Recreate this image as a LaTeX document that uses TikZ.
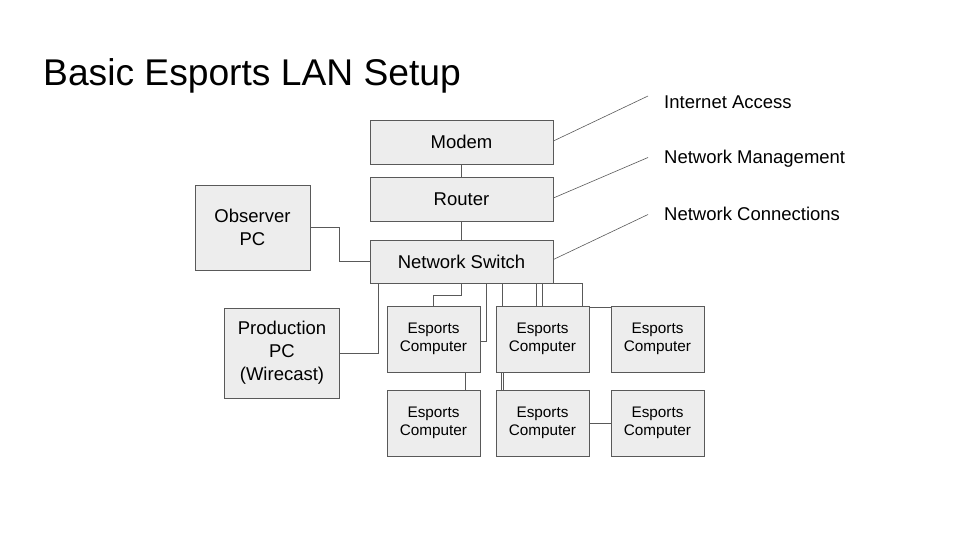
\documentclass[tikz,border=0pt]{standalone}
\usepackage{fontspec}
\setmainfont{Liberation Sans}
\usepackage{tikz}
\usetikzlibrary{positioning,calc}

\begin{document}
\begin{tikzpicture}[x = 1pt, y = -1pt,
  box/.style = {draw = black!65, fill = black!7, line width = .8pt, align = center,
    inner sep = 0pt, font = \fontsize{18.5}{23}\selectfont},
  esports/.style = {box, minimum width = 93pt, minimum height = 66pt,
    font = \fontsize{15.3}{18.5}\selectfont},
  note/.style = {anchor = base west, inner sep = 0pt, font = \fontsize{18.5}{22}\selectfont},
  wire/.style = {draw = black!65, line width = .8pt}]
\useasboundingbox (0, 0) rectangle (960, 540);

\node[anchor = base west, inner sep = 0pt, font = \fontsize{37.2}{40}\selectfont] (title) at (43, 86) {Basic Esports LAN Setup};

\node[box, minimum width = 183pt, minimum height = 44pt] (modem) at (461.5, 142) {Modem};
\node[box, minimum width = 183pt, minimum height = 44pt] (router) at (461.5, 199) {Router};
\node[box, minimum width = 183pt, minimum height = 43pt] (switch) at (461.5, 261.5) {Network Switch};
\node[box, minimum width = 115pt, minimum height = 85pt] (obs) at (252.5, 227.5) {Observer\\PC};
\node[box, minimum width = 115pt, minimum height = 90pt] (prod) at (282, 353) {Production\\PC\\(Wirecast)};

\node[esports] (e1) at (433.5, 339) {Esports\\Computer};
\node[esports] (e2) at (542.5, 339) {Esports\\Computer};
\node[esports] (e3) at (657.5, 339) {Esports\\Computer};
\node[esports] (e4) at (433.5, 423) {Esports\\Computer};
\node[esports] (e5) at (542.5, 423) {Esports\\Computer};
\node[esports] (e6) at (657.5, 423) {Esports\\Computer};

\node[note] (inet) at (664, 109) {Internet Access};
\node[note] (mgmt) at (664, 163.5) {Network Management};
\node[note] (conn) at (664, 220.5) {Network Connections};

% uplinks
\draw[wire] (modem) -- (router);
\draw[wire] (router) -- (switch);
\draw[wire] (obs.east) -- ++(29, 0) |- (switch.west);
\draw[wire] (switch.south west) ++(9, 0) |- (prod.east);

% switch to computers
\draw[wire] (switch.south) -- ++(0, 12) -| (e1.north);
\draw[wire] (switch.south) ++(25, 0) |- ([yshift = -2pt]e1.east);
\draw[wire] (switch.south) ++(41, 0) coordinate (s4) -- (s4 |- e2.north);
\draw[wire] (switch.south) ++(75, 0) coordinate (s5) -- (s5 |- e2.north);
\draw[wire] (switch.south) ++(81, 0) coordinate (s6) -- (s6 |- e2.north);
\draw[wire] ([yshift = .5pt]switch.south east) -- ++(29, 0) coordinate (s7) -- (s7 |- e2.north);

% computer to computer
\draw[wire] (e2.north east) ++(0, 1.5) coordinate (c23) -- (c23 -| e3.west);
\draw[wire] (e1.south) ++(32, 0) coordinate (c14) -- (c14 |- e4.north);
\draw[wire] (e2.south west) ++(6, 0) coordinate (c25) -- (c25 |- e5.north);
\draw[wire] (e2.south west) ++(8, 0) coordinate (c25b) -- (c25b |- e5.north);
\draw[wire] (e5) -- (e6);

% notes
\draw[wire, line width = .6pt] ([yshift = 1pt]modem.east) -- ([xshift = -16pt, yshift = 13pt]inet.base west);
\draw[wire, line width = .6pt] ([yshift = 1pt]router.east) -- ([xshift = -16pt, yshift = 6pt]mgmt.base west);
\draw[wire, line width = .6pt] ([yshift = 2pt]switch.east) -- ([xshift = -16pt, yshift = 6pt]conn.base west);

\end{tikzpicture}
\end{document}
